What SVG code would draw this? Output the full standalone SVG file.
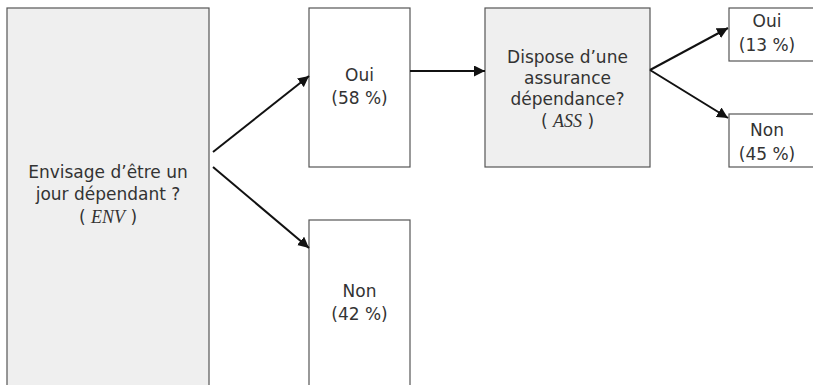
<svg xmlns="http://www.w3.org/2000/svg" width="813" height="385" viewBox="0 0 813 385">
<defs>
<marker id="ah" viewBox="0 0 10 10" refX="10" refY="5" markerWidth="11" markerHeight="11" markerUnits="userSpaceOnUse" orient="auto">
<path d="M0,0 L10,5 L0,10 z" fill="#111"/>
</marker>
<style>
.q{fill:#efefef;stroke:#555;stroke-width:1.2}
.a{fill:#fff;stroke:#555;stroke-width:1.2}
.t{font-family:"DejaVu Sans","Noto Sans",sans-serif;font-size:17px;fill:#333;text-anchor:middle}
.v{font-family:"Liberation Serif",serif;font-style:italic;font-size:18px}
.c{stroke:#111;stroke-width:2;fill:none;marker-end:url(#ah)}
</style>
</defs>
<rect width="813" height="385" fill="#fff"/>
<g id="env">
<rect class="q" x="7" y="8" width="202" height="390"/>
<text class="t" x="108" y="178">Envisage d’être un</text>
<text class="t" x="108" y="200">jour dépendant ?</text>
<text class="t" x="108" y="223">( <tspan class="v">ENV</tspan> )</text>
</g>
<g id="oui58">
<rect class="a" x="309" y="8" width="101" height="159"/>
<text class="t" x="359.5" y="81">Oui</text>
<text class="t" x="359.5" y="104">(58 %)</text>
</g>
<g id="non42">
<rect class="a" x="309" y="220" width="101" height="178"/>
<text class="t" x="359.5" y="297">Non</text>
<text class="t" x="359.5" y="320">(42 %)</text>
</g>
<g id="ass">
<rect class="q" x="485" y="8" width="165" height="159"/>
<text class="t" x="567.5" y="63">Dispose d’une</text>
<text class="t" x="567.5" y="84">assurance</text>
<text class="t" x="567.5" y="105">dépendance?</text>
<text class="t" x="567.5" y="127">( <tspan class="v">ASS</tspan> )</text>
</g>
<g id="oui13">
<rect class="a" x="729" y="8" width="90" height="53"/>
<text class="t" x="767" y="27">Oui</text>
<text class="t" x="767" y="51">(13 %)</text>
</g>
<g id="non45">
<rect class="a" x="729" y="114" width="90" height="53"/>
<text class="t" x="767" y="136">Non</text>
<text class="t" x="767" y="160">(45 %)</text>
</g>
<g id="connectors">
<line class="c" x1="213" y1="152" x2="309" y2="76"/>
<line class="c" x1="213" y1="167" x2="309" y2="248"/>
<line class="c" x1="410" y1="71" x2="485" y2="71"/>
<line class="c" x1="650" y1="70" x2="728" y2="28"/>
<line class="c" x1="650" y1="70" x2="728" y2="118"/>
</g>
</svg>
